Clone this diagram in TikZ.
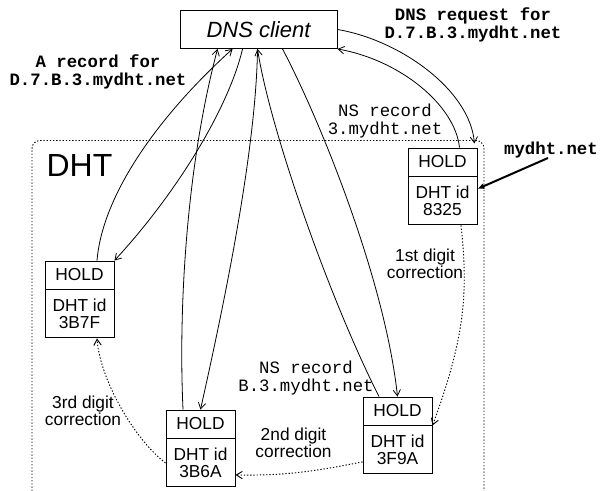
\documentclass[tikz,border=0pt]{standalone}
\usepackage{fontspec}
\setmainfont{Liberation Sans}
\setmonofont{Liberation Mono}
\usetikzlibrary{arrows.meta,calc}

\tikzset{
  client/.style={draw, line width=0.7pt, minimum width=117.75pt, minimum height=28.5pt,
    inner sep=0pt, font=\itshape\fontsize{16.5}{16.5}\selectfont},
  holdbox/.style={draw, line width=0.7pt, minimum width=51.75pt, minimum height=21pt,
    inner sep=0pt, font=\fontsize{13}{13}\selectfont},
  idbox/.style={draw, line width=0.7pt, minimum width=51.75pt, minimum height=36pt,
    inner sep=0pt, align=center, anchor=north, font=\fontsize{13}{12.5}\selectfont},
  dots/.style={line width=0.7pt, dash pattern=on 1pt off 1.4pt},
  msgarrow/.style={line width=0.6pt, -{Straight Barb[length=4.5pt,width=5.5pt]}},
  fixarrow/.style={dots, -{Straight Barb[length=4.5pt,width=5.5pt]}},
  ttlabel/.style={align=center, inner sep=0pt, font=\ttfamily\fontsize{13}{13.5}\selectfont},
  ttbold/.style={ttlabel, font=\ttfamily\bfseries\fontsize{13}{13.5}\selectfont},
  sflabel/.style={align=center, inner sep=0pt, font=\fontsize{13}{12.5}\selectfont},
}

\begin{document}
\begin{tikzpicture}[x=0.75pt,y=-0.75pt]
\useasboundingbox (0,0) rectangle (601,491);

% DHT region (open at the bottom)
\draw[dots, rounded corners=6pt]
  (32,491) -- (32,140.5) -- (484,140.5) -- (484,491);
\node[inner sep=0pt, font=\fontsize{24}{24}\selectfont] (dhtlabel) at (79.5,165) {DHT};

% client
\node[client] (dns) at (258.5,29.5) {DNS client};

% DHT nodes
\node[holdbox] (h1) at (442.5,162) {HOLD};
\node[idbox] (d1) at (h1.south) {DHT id\\8325};
\node[holdbox] (h2) at (79.5,275) {HOLD};
\node[idbox] (d2) at (h2.south) {DHT id\\3B7F};
\node[holdbox] (h3) at (200.5,424) {HOLD};
\node[idbox] (d3) at (h3.south) {DHT id\\3B6A};
\node[holdbox] (h4) at (397.5,411) {HOLD};
\node[idbox] (d4) at (h4.south) {DHT id\\3F9A};

% labels
\node[ttbold] (arec) at (98,72) {A record for\\D.7.B.3.mydht.net};
\node[ttbold] (dreq) at (473,25) {DNS request for\\D.7.B.3.mydht.net};
\node[ttlabel] (ns3) at (385,121) {NS record\\3.mydht.net};
\node[ttlabel] (nsb) at (306,378.5) {NS record\\B.3.mydht.net};
\node[ttbold] (mydht) at (551,150) {mydht.net};
\node[sflabel] (c1) at (425,264) {1st digit\\correction};
\node[sflabel] (c2) at (293.5,443) {2nd digit\\correction};
\node[sflabel] (c3) at (83,411) {3rd digit\\correction};

% request into the DHT and the first referral
\draw[msgarrow] (dns.east) .. controls (400,40) and (470,90) .. ($(h1.north east)+(-3,-4)$);
\draw[msgarrow] ($(h1.north)+(17,0)$) .. controls (455,105) and (400,60) .. (dns.south east);

% second referral
\draw[msgarrow] ($(dns.south west)+(103,0)$) .. controls (320,120) and (385,280) .. (h4.north);
\draw[msgarrow] ($(h4.north)+(-18.5,0)$) .. controls (330,300) and (270,130) .. ($(dns.south west)+(78,0)$);

% third referral
\draw[msgarrow] ($(dns.south west)+(78,0)$) .. controls (256,150) and (225,300) .. (h3.north);
\draw[msgarrow] ($(h3.north)+(-17.5,0)$) .. controls (178,300) and (188,160) .. ($(dns.south west)+(38,0)$);

% final answer
\draw[msgarrow] ($(dns.south west)+(63,0)$) .. controls (228,110) and (175,195) .. (h2.north east);
\draw[msgarrow] ($(h2.north)+(17.5,0)$) .. controls (103,190) and (165,110) .. ($(dns.south west)+(53,0)$);

% digit corrections
\draw[fixarrow] ($(d1.south)+(18.5,0)$) .. controls (468,290) and (466,335) .. (h4.south east);
\draw[fixarrow] ($(d4.west)+(0,12)$) .. controls (320,470) and (290,476) .. ($(d3.east)+(0,12)$);
\draw[fixarrow] (d3.west) .. controls (135,440) and (100,380) .. ($(d2.south)+(17.5,0)$);

% zone apex pointer
\coordinate (ptr) at (548,158);
\draw[line width=1.5pt, -{Latex[length=5pt,width=4.5pt]}] (ptr) -- ($(d1.east)+(0,-12)$);
\end{tikzpicture}
\end{document}
